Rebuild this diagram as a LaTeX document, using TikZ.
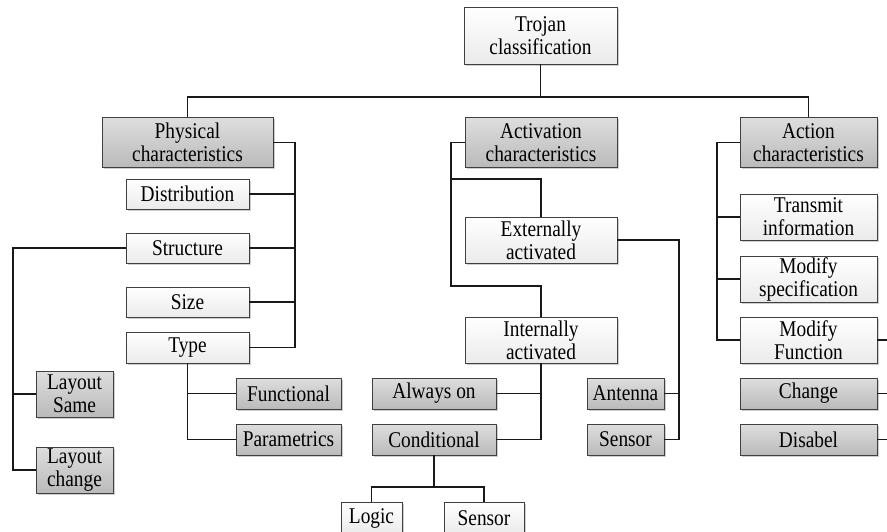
\documentclass[tikz,border=0pt]{standalone}
\usepackage{fontspec}
\setmainfont{Liberation Serif}[FakeStretch=0.86]
\usetikzlibrary{shadows,calc}

\newcommand{\boxfont}{\fontsize{22.5}{23}\selectfont}

\tikzset{
  box/.style={draw=black!75, line width=0.8pt, inner sep=0pt, outer sep=0pt,
    align=center, font=\boxfont,
    drop shadow={shadow xshift=2pt, shadow yshift=-2pt, fill=black!35, opacity=0.55}},
  whitebox/.style={box, top color=white, bottom color=black!8},
  graybox/.style={box, top color=black!13, bottom color=black!27},
  link/.style={draw=black!90, line width=1.6pt},
  sz/.style 2 args={minimum width=#1pt, minimum height=#2pt}
}

\begin{document}
\begin{tikzpicture}[x=1pt, y=-1pt]
\useasboundingbox (0,0) rectangle (887,532);

% root
\node[whitebox, sz={153}{57}] (troj) at (540.5,35.5) {Trojan\\classification};

% three main categories
\node[graybox, sz={171}{50}] (phys) at (187.5,142.5) {Physical\\characteristics};
\node[graybox, sz={152}{50}] (actc) at (541,142.5) {Activation\\characteristics};
\node[graybox, sz={137}{50}] (actn) at (808.5,142.5) {Action\\characteristics};

% physical characteristics
\node[whitebox, sz={123}{30}] (dist) at (187.5,194) {Distribution};
\node[whitebox, sz={123}{30}] (struct) at (187.5,248) {Structure};
\node[whitebox, sz={123}{30}] (size) at (187.5,302) {Size};
\node[whitebox, sz={123}{31}] (type) at (187.5,347.5) {Type};
\node[graybox, sz={77}{46}] (lsame) at (74.5,394) {Layout\\Same};
\node[graybox, sz={77}{46}] (lchg) at (74.5,470) {Layout\\change};
\node[graybox, sz={105}{31}] (func) at (288.5,393.5) {Functional};
\node[graybox, sz={105}{31}] (param) at (288.5,439.5) {Parametrics};

% activation characteristics
\node[whitebox, sz={152}{46}] (extn) at (541,240) {Externally\\activated};
\node[whitebox, sz={152}{46}] (intn) at (541,340) {Internally\\activated};
\node[graybox, sz={124}{31}] (alw) at (434,393.5) {Always on};
\node[graybox, sz={124}{31}] (cond) at (434,439.5) {Conditional};
\node[whitebox, sz={61}{32}] (logic) at (371.5,518) {Logic};
\node[whitebox, sz={80}{32}] (sens2) at (484,518) {Sensor};
\node[graybox, sz={77}{31}] (ant) at (625.5,393.5) {Antenna};
\node[graybox, sz={77}{31}] (sens1) at (625.5,439.5) {Sensor};

% action characteristics
\node[whitebox, sz={137}{46}] (trans) at (808.5,217) {Transmit\\information};
\node[whitebox, sz={137}{46}] (mods) at (808.5,279) {Modify\\specification};
\node[whitebox, sz={137}{46}] (modf) at (808.5,340) {Modify\\Function};
\node[graybox, sz={137}{31}] (chg) at (808.5,393.5) {Change};
\node[graybox, sz={137}{31}] (dis) at (808.5,439.5) {Disabel};

% bus coordinates
\coordinate (tbus) at (540.5,97);
\coordinate (pv) at (295,0);
\coordinate (sv) at (13,0);
\coordinate (a1) at (451,179);
\coordinate (a2) at (451,286);
\coordinate (ev) at (679,0);
\coordinate (cv) at (717,0);
\coordinate (cb) at (434,487);
\coordinate (rx) at (887,0);

% root to categories
\draw[link] (troj.south) -- (tbus);
\draw[link] (phys.north) |- (tbus) -| (actn.north);

% physical tree
\draw[link] (phys.east) -| (pv |- type.east) -- (type.east);
\draw[link] (dist.east) -- (pv |- dist.east);
\draw[link] (struct.east) -- (pv |- struct.east);
\draw[link] (size.east) -- (pv |- size.east);
\draw[link] (struct.west) -| (sv |- lchg.west) -- (lchg.west);
\draw[link] (lsame.west) -- (sv |- lsame.west);
\draw[link] (type.south) |- (param.west);
\draw[link] (func.west) -- (type.south |- func.west);

% activation tree
\draw[link] (actc.west) -| (a2) -| (intn.north);
\draw[link] (a1) -| (extn.north);
\draw[link] (intn.south) |- (cond.east);
\draw[link] (alw.east) -- (intn.south |- alw.east);
\draw[link] (cond.south) -- (cb);
\draw[link] (logic.north) |- (cb) -| (sens2.north);
\draw[link] (extn.east) -| (ev |- sens1.east) -- (sens1.east);
\draw[link] (ant.east) -- (ev |- ant.east);

% action tree
\draw[link] (actn.west) -| (cv |- modf.west) -- (modf.west);
\draw[link] (trans.west) -- (cv |- trans.west);
\draw[link] (mods.west) -- (cv |- mods.west);
\draw[link] (modf.east) -- (rx |- modf.east);
\draw[link] (chg.east) -- (rx |- chg.east);
\draw[link] (dis.east) -- (rx |- dis.east);
\end{tikzpicture}
\end{document}
